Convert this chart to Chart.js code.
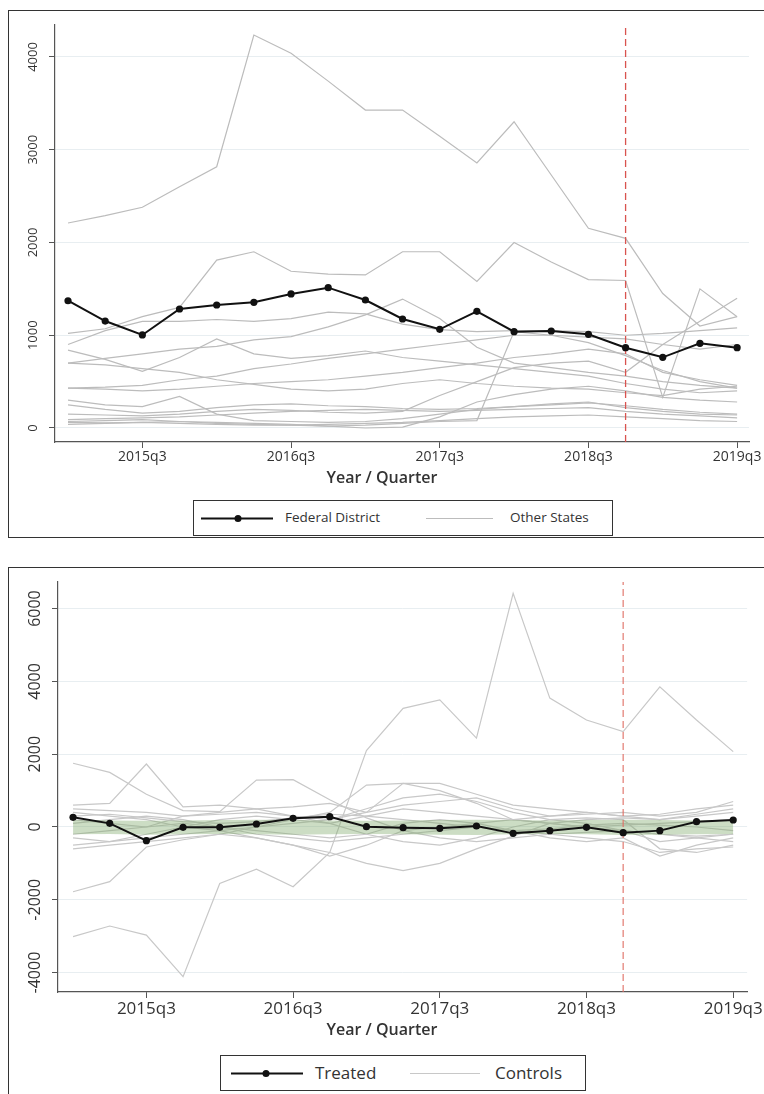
<!DOCTYPE html>
<html><head><meta charset="utf-8">
<script src="https://cdn.jsdelivr.net/npm/chart.js@4.4.1/dist/chart.umd.min.js"></script>
<style>
html,body{margin:0;padding:0;background:#fff;width:764px;height:1094px;overflow:hidden;font-family:"Open Sans",sans-serif;color:#333;}
.box{position:absolute;border:1.5px solid #333;box-sizing:border-box;}
canvas{position:absolute;left:0;}
.legend{position:absolute;border:1.5px solid #333;background:#fff;box-sizing:border-box;}
.legend svg{position:absolute;top:0;left:0;}
.legend span{position:absolute;white-space:nowrap;}
.atitle{position:absolute;width:764px;left:0;text-align:center;font-weight:600;white-space:nowrap;}
</style></head>
<body>
<div class="box" style="left:8px;top:10px;width:800px;height:528px;"></div>
<div class="box" style="left:8px;top:567px;width:800px;height:560px;"></div>
<canvas id="c1" width="764" height="540" style="top:0"></canvas>
<canvas id="c2" width="764" height="534" style="top:560px"></canvas>

<div class="atitle" style="top:466px;font-size:16px;">Year / Quarter</div>
<div class="legend" style="left:193px;top:500px;width:420px;height:36px;">
  <svg width="420" height="36"><line x1="7" y1="17.5" x2="79" y2="17.5" stroke="#111" stroke-width="2"/><circle cx="44" cy="17.5" r="3.5" fill="#111"/>
  <line x1="232" y1="17.5" x2="299" y2="17.5" stroke="#bcbcbc" stroke-width="1.2"/></svg>
  <span style="left:91px;top:7px;font-size:13.5px;">Federal District</span>
  <span style="left:316px;top:7px;font-size:13.5px;">Other States</span>
</div>

<div class="atitle" style="top:1018px;font-size:16px;">Year / Quarter</div>
<div class="legend" style="left:220px;top:1055px;width:366px;height:36px;">
  <svg width="366" height="36"><line x1="10" y1="17.5" x2="82" y2="17.5" stroke="#111" stroke-width="2"/><circle cx="45" cy="17.5" r="3.5" fill="#111"/>
  <line x1="189" y1="17.5" x2="259" y2="17.5" stroke="#c8c8c8" stroke-width="1.2"/></svg>
  <span style="left:94px;top:5px;font-size:17px;">Treated</span>
  <span style="left:274px;top:5px;font-size:17px;">Controls</span>
</div>

<script>
// ---------- categories / ticks ----------
const quarters = ['2015q1','2015q2','2015q3','2015q4','2016q1','2016q2','2016q3','2016q4',
  '2017q1','2017q2','2017q3','2017q4','2018q1','2018q2','2018q3','2018q4','2019q1','2019q2','2019q3'];
const xTickQuarters = ['2015q3','2016q3','2017q3','2018q3','2019q3'];
const treatmentQuarter = '2018q4';
const yTicksTop = [0, 1000, 2000, 3000, 4000];
const yTicksBottom = [-4000, -2000, 0, 2000, 4000, 6000];

// ---------- top panel: Federal District vs other states ----------
const federalDistrict = [1372,1153,1003,1283,1326,1355,1445,1513,1380,1175,1064,1258,1038,1046,1010,866,762,913,866];
const otherState01 = [2210,2290,2380,2600,2817,4237,4040,3740,3428,3428,3146,2857,3302,2728,2153,2045,1450,1100,1200];
const otherState02 = [1020,1070,1200,1300,1810,1900,1690,1660,1650,1900,1900,1580,2000,1790,1600,1590,330,1500,1200];
const otherState03 = [900,1050,1150,1150,1170,1150,1180,1250,1230,1120,1060,1040,1050,1050,1040,1000,1020,1050,1080];
const otherState04 = [700,750,800,850,880,950,985,1090,1220,1390,1180,870,700,650,600,560,500,460,430];
const otherState05 = [840,740,610,760,960,800,750,780,830,760,720,680,640,600,560,480,420,380,400];
const otherState06 = [430,440,460,520,560,640,690,750,800,850,900,950,1000,1000,980,960,900,850,900];
const otherState07 = [700,680,640,600,520,470,420,400,420,480,520,480,450,430,420,380,350,420,450];
const otherState08 = [430,420,400,420,450,480,500,520,560,600,650,700,760,800,850,800,600,520,460];
const otherState09 = [300,250,230,340,150,80,70,60,70,100,150,200,230,260,280,220,180,150,140];
const otherState10 = [250,200,160,180,220,250,260,240,230,210,200,210,230,250,270,240,200,170,150];
const otherState11 = [90,100,110,120,140,160,180,190,200,190,180,190,200,210,220,180,150,130,110];
const otherState12 = [60,55,60,70,50,40,30,20,30,50,70,80,1040,1000,920,780,620,500,430];
const otherState13 = [70,80,90,70,60,50,40,20,0,10,120,280,360,420,450,400,330,300,280];
const otherState14 = [40,50,60,50,40,30,30,40,50,60,80,100,120,130,140,120,100,80,70];
const otherState15 = [150,140,130,150,180,200,190,170,160,180,350,500,650,700,720,600,900,1150,1400];

// ---------- bottom panel: treated vs controls ----------
const treated = [265,100,-376,-10,-10,82,237,283,8,-20,-37,27,-175,-100,-10,-156,-100,146,192];
const bandUpper = [190,180,170,180,190,200,190,180,170,180,190,200,190,180,190,200,190,180,190];
const bandLower = [-200,-190,-210,-200,-190,-200,-210,-200,-190,-200,-210,-220,-200,-190,-200,-220,-210,-200,-190];
const control01 = [-3010,-2720,-2970,-4110,-1550,-1160,-1640,-700,2100,3260,3490,2440,6420,3540,2940,2620,3850,2940,2070];
const control02 = [1750,1500,900,450,420,1290,1300,750,250,-100,-300,-400,-300,-200,-150,-100,-200,-250,-200];
const control03 = [600,650,1730,550,600,500,550,650,400,1200,1000,650,200,100,0,50,100,150,200];
const control04 = [-1780,-1500,-550,-350,-200,-300,-500,-800,-500,-100,0,100,200,100,0,-100,-200,-300,-200];
const control05 = [-500,-400,-300,-200,-100,-300,-500,-700,-1000,-1200,-1000,-600,-250,100,200,250,200,300,400];
const control06 = [500,450,400,300,350,400,300,200,400,600,700,800,500,300,350,400,300,400,700];
const control07 = [-300,-400,-200,0,200,300,200,100,300,500,400,300,200,300,400,300,200,350,500];
const control08 = [200,100,0,300,400,500,300,100,-200,-400,-500,-300,0,200,250,200,-600,-700,-500];
const control09 = [-600,-500,-400,-300,-200,0,100,200,500,800,900,700,400,200,100,-100,-400,-300,-400];
const control10 = [100,200,300,200,0,-200,-300,-400,-300,-200,-100,0,-100,-200,-300,-400,-700,-600,-550];
const control11 = [400,300,200,0,-100,0,200,400,1150,1200,1200,900,600,500,400,300,350,500,600];
const control12 = [-200,-100,0,100,0,-100,-200,-300,-200,100,200,100,-100,-300,-400,-300,-800,-500,-300];
const control13 = [300,350,250,150,100,150,250,350,300,200,100,0,-100,-50,50,100,50,0,-100];

const otherStates = [otherState01,otherState02,otherState03,otherState04,otherState05,otherState06,otherState07,
  otherState08,otherState09,otherState10,otherState11,otherState12,otherState13,otherState14,otherState15];
const controls = [control01,control02,control03,control04,control05,control06,control07,control08,control09,
  control10,control11,control12,control13];

const toXY = vals => vals.map((v, i) => ({x: i, y: v}));
const treatIdx = quarters.indexOf(treatmentQuarter);

const rotY = {
  id: 'rotY',
  afterDraw(chart, args, o) {
    const s = chart.scales.y, ctx = chart.ctx;
    ctx.save();
    ctx.font = o.font; ctx.fillStyle = o.color;
    ctx.textAlign = 'center'; ctx.textBaseline = 'middle';
    s.ticks.forEach(t => {
      const y = s.getPixelForValue(t.value);
      ctx.save(); ctx.translate(o.x, y); ctx.rotate(-Math.PI / 2);
      ctx.fillText(String(t.value), 0, 0); ctx.restore();
    });
    ctx.restore();
  }
};

function makeChart(id, p) {
  const datasets = [];
  datasets.push({data: toXY(p.main), borderColor: '#111', backgroundColor: '#111', borderWidth: 2,
    pointRadius: 3.6, pointBorderWidth: 0, pointBackgroundColor: '#111', order: 0});
  datasets.push({data: [{x: treatIdx, y: p.yMin}, {x: treatIdx, y: p.yMax}], borderColor: p.redColor,
    borderWidth: 1.3, borderDash: [7, 4], pointRadius: 0, order: 1});
  if (p.bandLower) {
    datasets.push({data: toXY(p.bandLower), borderWidth: 0, pointRadius: 0, order: 2, fill: false});
    datasets.push({data: toXY(p.bandUpper), borderWidth: 0, pointRadius: 0, order: 2,
      fill: '-1', backgroundColor: 'rgba(120,165,100,0.38)'});
  }
  p.others.forEach((arr, k) => datasets.push({data: toXY(arr), borderColor: p.otherColor, borderWidth: 1.2,
    pointRadius: 0, order: 3 + k}));
  return new Chart(document.getElementById(id), {
    type: 'line',
    data: {datasets},
    plugins: [rotY],
    options: {
      responsive: false, animation: false,
      layout: {autoPadding: false, padding: {top: p.padTop, right: p.padRight, bottom: p.padBottom, left: 0}},
      elements: {line: {tension: 0}},
      plugins: {legend: {display: false}, tooltip: {enabled: false},
        rotY: {x: p.yLabelX, font: p.yFont, color: '#333'}},
      scales: {
        x: {type: 'linear', min: p.xMin, max: p.xMax,
          afterBuildTicks: s => { s.ticks = xTickQuarters.map(q => ({value: quarters.indexOf(q)})); },
          afterFit: s => { s.height = 30; },
          ticks: {callback: v => quarters[v], color: '#333', font: {family: 'Open Sans', size: p.xFontSize},
            padding: 1, autoSkip: false, maxRotation: 0, minRotation: 0},
          grid: {drawOnChartArea: false, drawTicks: true, tickLength: 6, tickColor: '#555'},
          border: {color: '#555', width: 1.2}},
        y: {type: 'linear', min: p.yMin, max: p.yMax,
          afterBuildTicks: s => { s.ticks = p.yTicks.map(v => ({value: v})); },
          afterFit: s => { s.width = p.yWidth; },
          ticks: {display: false},
          grid: {color: '#e8eef1', lineWidth: 1, tickLength: 6, tickColor: '#555'},
          border: {color: '#555', width: 1.2}}
      }
    }
  });
}

makeChart('c1', {main: federalDistrict, others: otherStates, otherColor: '#bcbcbc', redColor: '#d9534f',
  yMin: -151, yMax: 4345, yTicks: yTicksTop, xMin: -0.35, xMax: 18.32,
  padTop: 25, padRight: 15, padBottom: 68, yWidth: 55, yLabelX: 33, yFont: '13px "Open Sans"', xFontSize: 14});

makeChart('c2', {main: treated, others: controls, otherColor: '#c8c8c8', redColor: 'rgba(225,110,100,0.85)',
  bandLower: bandLower, bandUpper: bandUpper,
  yMin: -4533, yMax: 6730, yTicks: yTicksBottom, xMin: -0.41, xMax: 18.38,
  padTop: 22, padRight: 15, padBottom: 72, yWidth: 58, yLabelX: 35, yFont: '16px "Open Sans"', xFontSize: 17});
</script>
</body></html>
